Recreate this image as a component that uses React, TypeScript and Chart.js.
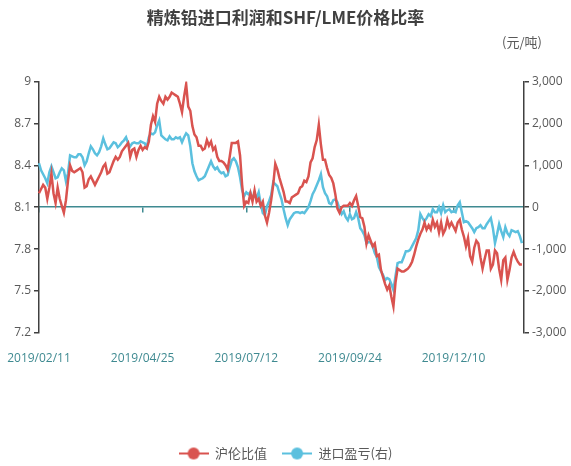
import { useEffect, useRef } from 'react';
import { Chart, registerables } from 'chart.js';

Chart.register(...registerables);

const titleText = '精炼铅进口利润和SHF/LME价格比率';
const unitLabel = '(元/吨)';
const seriesNames = ['沪伦比值', '进口盈亏(右)'];
const tickLabels = ['2019/02/11', '2019/04/25', '2019/07/12', '2019/09/24', '2019/12/10'];
const tickEvery = 50;
const categoryCount = 235;
const categories = Array.from({ length: categoryCount }, (_, i) => String(i));

const ratioSeries = [
  8.20, 8.23, 8.26, 8.24, 8.16, 8.24, 8.34, 8.20, 8.13, 8.24,
  8.16, 8.11, 8.06, 8.15, 8.29, 8.40, 8.36, 8.35, 8.36, 8.37,
  8.38, 8.35, 8.24, 8.25, 8.30, 8.32, 8.29, 8.26, 8.29, 8.32,
  8.35, 8.39, 8.41, 8.34, 8.35, 8.39, 8.43, 8.46, 8.44, 8.46,
  8.50, 8.52, 8.54, 8.56, 8.46, 8.51, 8.52, 8.46, 8.51, 8.54,
  8.51, 8.53, 8.52, 8.57, 8.69, 8.75, 8.71, 8.84, 8.89, 8.86,
  8.84, 8.89, 8.87, 8.89, 8.92, 8.91, 8.90, 8.89, 8.84, 8.78,
  8.89, 8.98, 8.82, 8.79, 8.68, 8.62, 8.60, 8.54, 8.54, 8.51,
  8.52, 8.58, 8.54, 8.57, 8.51, 8.53, 8.46, 8.43, 8.43, 8.42,
  8.40, 8.37, 8.46, 8.56, 8.56, 8.56, 8.57, 8.47, 8.26, 8.11,
  8.14, 8.13, 8.20, 8.14, 8.22, 8.14, 8.16, 8.11, 8.14, 8.04,
  7.99, 8.06, 8.15, 8.26, 8.41, 8.37, 8.31, 8.26, 8.21, 8.14,
  8.14, 8.13, 8.17, 8.18, 8.19, 8.20, 8.24, 8.25, 8.29, 8.28,
  8.32, 8.42, 8.45, 8.53, 8.58, 8.69, 8.55, 8.44, 8.44, 8.38,
  8.33, 8.31, 8.27, 8.19, 8.09, 8.06, 8.10, 8.11, 8.11, 8.11,
  8.13, 8.11, 8.15, 8.18, 8.11, 8.03, 8.02, 7.96, 7.84, 7.90,
  7.86, 7.82, 7.84, 7.75, 7.76, 7.65, 7.60, 7.55, 7.51, 7.54,
  7.46, 7.39, 7.56, 7.66, 7.65, 7.64, 7.64, 7.65, 7.66, 7.68,
  7.71, 7.76, 7.82, 7.87, 7.91, 7.94, 7.99, 7.94, 7.97, 7.94,
  8.01, 7.96, 7.99, 7.92, 7.99, 7.91, 7.94, 8.01, 7.96, 7.99,
  7.96, 7.93, 7.99, 8.01, 7.94, 7.89, 7.82, 7.88, 7.75, 7.71,
  7.81, 7.86, 7.84, 7.74, 7.66, 7.73, 7.79, 7.79, 7.66, 7.69,
  7.79, 7.77, 7.66, 7.58, 7.72, 7.74, 7.58, 7.65, 7.74, 7.78,
  7.74, 7.71, 7.69, 7.69,
];

const profitSeries = [
  1048, 881, 786, 690, 571, 833, 976, 833, 690, 714,
  833, 929, 881, 619, 810, 1238, 1214, 1190, 1190, 1262,
  1262, 1190, 1000, 1095, 1286, 1452, 1381, 1286, 1238, 1310,
  1452, 1643, 1500, 1381, 1405, 1476, 1548, 1524, 1429, 1476,
  1548, 1595, 1667, 1524, 1452, 1524, 1548, 1524, 1524, 1571,
  1548, 1524, 1429, 1667, 1762, 1738, 1786, 1952, 2071, 1714,
  1667, 1619, 1595, 1690, 1619, 1619, 1667, 1643, 1667, 1548,
  1667, 1762, 1714, 1452, 1048, 857, 738, 643, 667, 690,
  738, 857, 976, 1095, 976, 905, 952, 857, 810, 833,
  738, 762, 952, 1119, 1167, 1095, 952, 714, 405, 262,
  357, 310, 357, 190, 333, 214, 357, 71, -143, -190,
  24, 143, 286, 595, 548, 500, 333, 190, -48, -262,
  -429, -286, -214, -143, -119, -119, -143, -119, -143, -71,
  0, 143, 310, 405, 524, 643, 786, 476, 333, 262,
  95, 71, 167, 190, 119, -48, -167, -95, -238, -310,
  -167, -286, -262, -119, -262, -500, -571, -667, -857, -833,
  -833, -929, -1095, -1190, -1429, -1524, -1619, -1738, -1690, -1714,
  -1833, -1976, -1643, -1333, -1310, -1310, -1190, -1048, -1048, -1024,
  -929, -833, -738, -548, -167, -262, -333, -262, -167, -214,
  -48, -119, -119, 0, -143, 48, -119, -71, -48, -119,
  -95, -119, 48, 119, -119, -357, -333, -357, -429, -500,
  -595, -500, -476, -429, -500, -500, -405, -333, -262, -500,
  -857, -643, -405, -571, -714, -476, -619, -690, -548, -571,
  -595, -571, -690, -857,
];

const RED = '#d9534f';
const BLUE = '#5bc0de';
const TEAL = '#3f8a91';
const AXIS = '#404040';
const TEXT = '#595959';
const CJK = '"Noto Sans CJK SC", "Open Sans", sans-serif';
const NUM = '"Open Sans", "Noto Sans CJK SC", sans-serif';

function legendMarker(color: string) {
  const c = document.createElement('canvas');
  c.width = 30;
  c.height = 14;
  const g = c.getContext('2d')!;
  g.strokeStyle = color;
  g.lineWidth = 2;
  g.beginPath();
  g.moveTo(0, 7);
  g.lineTo(30, 7);
  g.stroke();
  g.fillStyle = color;
  g.beginPath();
  g.arc(15, 7, 6, 0, Math.PI * 2);
  g.fill();
  return c;
}

const keepLabelTicks = (scale: any) => {
  scale.ticks = scale.ticks.filter(
    (t: any) => t.value % tickEvery === 0 && t.value / tickEvery < tickLabels.length
  );
};

const unitPlugin = {
  id: 'unitText',
  afterDraw(chart: any) {
    const { ctx, chartArea } = chart;
    ctx.save();
    ctx.font = '13px ' + CJK;
    ctx.fillStyle = TEXT;
    ctx.textAlign = 'right';
    ctx.textBaseline = 'middle';
    ctx.fillText(unitLabel, chartArea.right + 18, chartArea.top - 39);
    ctx.restore();
  },
};

export default function App() {
  const ref = useRef<HTMLCanvasElement | null>(null);

  useEffect(() => {
    if (!ref.current) return;
    const chart = new Chart(ref.current, {
      type: 'line',
      data: {
        labels: categories,
        datasets: [
          {
            label: seriesNames[0],
            data: ratioSeries,
            borderColor: RED,
            backgroundColor: RED,
            borderWidth: 2.5,
            pointRadius: 0,
            pointStyle: legendMarker(RED) as any,
            yAxisID: 'y',
            xAxisID: 'x',
          },
          {
            label: seriesNames[1],
            data: profitSeries,
            borderColor: BLUE,
            backgroundColor: BLUE,
            borderWidth: 2.5,
            pointRadius: 0,
            pointStyle: legendMarker(BLUE) as any,
            yAxisID: 'y1',
            xAxisID: 'x',
          },
        ],
      },
      options: {
        animation: false,
        responsive: true,
        maintainAspectRatio: false,
        layout: { padding: { top: 7, bottom: -4, left: 0, right: 0 } },
        plugins: {
          title: {
            display: true,
            text: titleText,
            color: AXIS,
            font: { family: CJK, size: 17, weight: 'bold' },
            padding: { top: 0, bottom: 54 },
          },
          legend: {
            position: 'bottom',
            labels: {
              usePointStyle: true,
              pointStyleWidth: 30,
              padding: 15,
              color: TEXT,
              font: { family: CJK, size: 13 },
            },
          },
          tooltip: { enabled: false },
        },
        scales: {
          x: {
            type: 'category',
            position: 'bottom',
            grid: { display: false, drawTicks: true, tickLength: 16 },
            border: { display: false },
            afterBuildTicks: keepLabelTicks,
            afterFit: (s: any) => {
              s.height = 99;
            },
            ticks: {
              autoSkip: false,
              maxRotation: 0,
              padding: 2,
              color: TEAL,
              font: { family: NUM, size: 12 },
              callback: (v: any) => tickLabels[Number(v) / tickEvery],
            },
          },
          x2: {
            type: 'category',
            axis: 'x',
            position: { y: 8.1 } as any,
            grid: { drawOnChartArea: false, drawTicks: true, tickLength: 5, color: TEAL, lineWidth: 1.5 },
            border: { color: TEAL, width: 1.5 },
            afterBuildTicks: keepLabelTicks,
            ticks: { display: false, autoSkip: false },
          },
          y: {
            type: 'linear',
            position: 'left',
            min: 7.2,
            max: 9,
            afterFit: (s: any) => {
              s.width = 39;
            },
            grid: { drawOnChartArea: false, drawTicks: true, tickLength: 5, color: AXIS, lineWidth: 1.5 },
            border: { color: AXIS, width: 1.5 },
            ticks: {
              stepSize: 0.3,
              padding: 3,
              color: TEXT,
              font: { family: NUM, size: 12 },
              callback: (v: any) => String(Number(Number(v).toFixed(1))),
            },
          },
          y1: {
            type: 'linear',
            position: 'right',
            min: -3000,
            max: 3000,
            afterFit: (s: any) => {
              s.width = 47;
            },
            grid: { drawOnChartArea: false, drawTicks: true, tickLength: 5, color: AXIS, lineWidth: 1.5 },
            border: { color: AXIS, width: 1.5 },
            ticks: {
              stepSize: 1000,
              padding: 3,
              color: TEXT,
              font: { family: NUM, size: 12 },
              callback: (v: any) => Number(v).toLocaleString('en-US'),
            },
          },
        },
      },
      plugins: [unitPlugin],
    });
    return () => chart.destroy();
  }, []);

  return (
    <div style={{ position: 'fixed', left: 0, top: 0, width: 571, height: 466, background: '#fff' }}>
      <canvas ref={ref} />
    </div>
  );
}
